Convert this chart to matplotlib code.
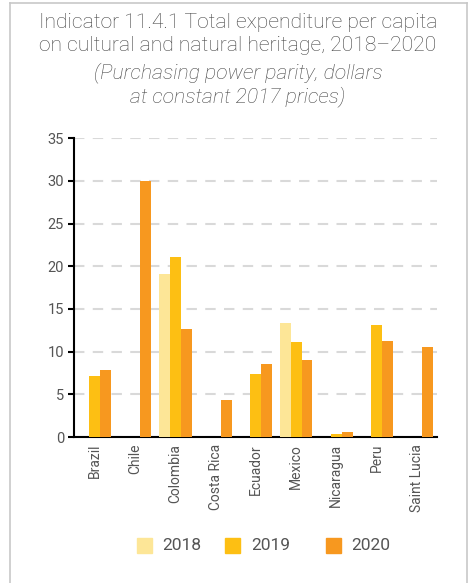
import matplotlib
matplotlib.use("Agg")
import matplotlib.pyplot as plt
from matplotlib.lines import Line2D
from matplotlib.patches import Rectangle
import numpy as np

countries = ["Brazil", "Chile", "Colombia", "Costa Rica", "Ecuador", "Mexico",
             "Nicaragua", "Peru", "Saint Lucia"]
years = ["2018", "2019", "2020"]
v2018 = [np.nan, np.nan, 19.1, np.nan, np.nan, 13.4, np.nan, np.nan, np.nan]
v2019 = [7.2, np.nan, 21.1, np.nan, 7.4, 11.1, 0.4, 13.1, np.nan]
v2020 = [7.8, 30.0, 12.6, 4.3, 8.6, 9.0, 0.6, 11.2, 10.6]
yticks = [0, 5, 10, 15, 20, 25, 30, 35]
colors = ["#FDE697", "#FDBF13", "#F7981F"]

plt.rcParams['font.family'] = ['Roboto', 'DejaVu Sans']

fig = plt.figure(figsize=(4.73, 5.83), dpi=100)
ax = fig.add_axes([0.156, 0.2504, 0.768, 0.5126])

x = np.arange(len(countries))
w = 0.27
for i, (vals, c) in enumerate(zip([v2018, v2019, v2020], colors)):
    ax.bar(x + (i - 1) * w, vals, width=w, color=c, linewidth=0, zorder=3)

ax.set_xlim(-0.52, 8.5)
ax.set_ylim(0, 35)
ax.set_yticks(yticks)
ax.set_yticklabels([str(t) for t in yticks])
ax.set_xticks(x)
ax.set_xticklabels(countries, rotation=90)
ax.tick_params(axis='y', length=4, width=1.5, color='black', labelsize=10.5, labelcolor='#555555', pad=3)
ax.tick_params(axis='x', length=0, labelsize=10, labelcolor='#555555', pad=5)
ax.yaxis.grid(True, linestyle=(0, (5, 4)), color='#d9d9d9', linewidth=1.5, zorder=0)
ax.set_axisbelow(True)
for s in ['top', 'right']:
    ax.spines[s].set_visible(False)
ax.spines['left'].set_linewidth(1.5)
ax.spines['bottom'].set_linewidth(1.5)

tc = '#444444'
fs = 15.2
fig.text(0.503, 0.962, "Indicator 11.4.1 Total expenditure per capita", ha='center', va='center',
         fontsize=fs, color=tc, fontweight='light')
fig.text(0.503, 0.922, "on cultural and natural heritage, 2018\u20132020", ha='center', va='center',
         fontsize=fs, color=tc, fontweight='light')
fig.text(0.503, 0.875, "(Purchasing power parity, dollars", ha='center', va='center',
         fontsize=fs, color=tc, style='italic', fontweight='light')
fig.text(0.503, 0.834, "at constant 2017 prices)", ha='center', va='center',
         fontsize=fs, color=tc, style='italic', fontweight='light')

# legend
leg_y = 1 - 545 / 583
sq = 15
for xs, xt, lab, c in [(137, 162, years[0], colors[0]), (225, 251, years[1], colors[1]), (326, 351, years[2], colors[2])]:
    fig.add_artist(Rectangle((xs / 473, leg_y - sq / 2 / 583), sq / 473, sq / 583, color=c,
                             transform=fig.transFigure))
    fig.text(xt / 473, leg_y, lab, ha='left', va='center', fontsize=12.5, color='#555555')

# frame
fc = '#c8c8c8'
fig.add_artist(Line2D([10 / 473, 10 / 473], [0, 1 - 3 / 583], color=fc, lw=1.2, transform=fig.transFigure))
fig.add_artist(Line2D([10 / 473, 467 / 473], [1 - 3 / 583, 1 - 3 / 583], color=fc, lw=1.2, transform=fig.transFigure))
fig.add_artist(Line2D([467 / 473, 467 / 473], [0, 1 - 3 / 583], color=fc, lw=1.2, transform=fig.transFigure))

fig.savefig("out.png", dpi=100)
